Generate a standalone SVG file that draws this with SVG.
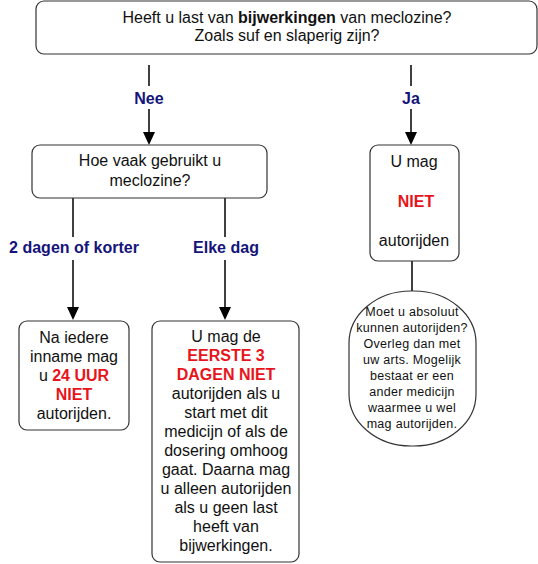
<svg xmlns="http://www.w3.org/2000/svg" width="538" height="564" viewBox="0 0 538 564">
<defs>
<style>
.box{fill:#fff;stroke:#333;stroke-width:1.2}
.t{font-family:"Liberation Sans",Arial,sans-serif;font-size:16px;fill:#111;text-anchor:middle}
.r{fill:#e8141b;font-weight:bold}
.b{font-weight:bold}
.lbl{font-family:"Liberation Sans",Arial,sans-serif;font-size:16px;font-weight:bold;fill:#14147a;text-anchor:middle}
.ln{stroke:#000;stroke-width:1.5;fill:none}
.s{font-size:12.5px;letter-spacing:0.3px}
</style>
</defs>
<g id="connectors">
<line class="ln" x1="149" y1="65" x2="149" y2="86"/>
<line class="ln" x1="149" y1="109" x2="149" y2="133"/>
<path d="M143,132 L155,132 L149,145 Z"/>
<text class="lbl" x="149" y="104">Nee</text>
<line class="ln" x1="411" y1="65" x2="411" y2="86"/>
<line class="ln" x1="411" y1="109" x2="411" y2="133"/>
<path d="M405,132 L417,132 L411,145 Z"/>
<text class="lbl" x="411" y="104">Ja</text>
<line class="ln" x1="73" y1="198" x2="73" y2="237"/>
<line class="ln" x1="73" y1="260" x2="73" y2="308"/>
<path d="M67,307 L79,307 L73,320 Z"/>
<text class="lbl" x="74" y="253">2 dagen of korter</text>
<line class="ln" x1="225" y1="198" x2="225" y2="237"/>
<line class="ln" x1="225" y1="260" x2="225" y2="308"/>
<path d="M219,307 L231,307 L225,320 Z"/>
<text class="lbl" x="226" y="253">Elke dag</text>
<line class="ln" x1="412" y1="261" x2="412" y2="291"/>
</g>
<g id="n1">
<rect class="box" x="36" y="1" width="501" height="53" rx="8"/>
<text class="t" x="287" y="23">Heeft u last van <tspan class="b">bijwerkingen</tspan> van meclozine?</text>
<text class="t" x="287" y="41">Zoals suf en slaperig zijn?</text>
</g>
<g id="n2">
<rect class="box" x="32" y="145" width="235" height="53" rx="8"/>
<text class="t" x="150" y="166">Hoe vaak gebruikt u</text>
<text class="t" x="150" y="186">meclozine?</text>
</g>
<g id="n3">
<rect class="box" x="370" y="145" width="89" height="116" rx="8"/>
<text class="t" x="414" y="167">U mag</text>
<text class="t r" x="416" y="207">NIET</text>
<text class="t" x="414" y="246">autorijden</text>
</g>
<g id="n4">
<rect class="box" x="19" y="321" width="110" height="109" rx="8"/>
<text class="t" x="74" y="343">Na iedere</text>
<text class="t" x="74" y="362">inname mag</text>
<text class="t" x="74" y="381">u <tspan class="r">24 UUR</tspan></text>
<text class="t r" x="74" y="400">NIET</text>
<text class="t" x="74" y="419">autorijden.</text>
</g>
<g id="n5">
<rect class="box" x="152" y="321" width="147" height="241" rx="8"/>
<text class="t" x="226" y="342">U mag de</text>
<text class="t r" x="226" y="361">EERSTE 3</text>
<text class="t r" x="226" y="380">DAGEN NIET</text>
<text class="t" x="226" y="399">autorijden als u</text>
<text class="t" x="226" y="418">start met dit</text>
<text class="t" x="226" y="437">medicijn of als de</text>
<text class="t" x="226" y="456">dosering omhoog</text>
<text class="t" x="226" y="475">gaat. Daarna mag</text>
<text class="t" x="226" y="494">u alleen autorijden</text>
<text class="t" x="226" y="513">als u geen last</text>
<text class="t" x="226" y="532">heeft van</text>
<text class="t" x="226" y="551">bijwerkingen.</text>
</g>
<g id="n6">
<rect class="box" x="349" y="291" width="127" height="155" rx="62" ry="52"/>
<text class="t s" x="412" y="316">Moet u absoluut</text>
<text class="t s" x="412" y="332">kunnen autorijden?</text>
<text class="t s" x="412" y="348">Overleg dan met</text>
<text class="t s" x="412" y="364">uw arts. Mogelijk</text>
<text class="t s" x="412" y="380">bestaat er een</text>
<text class="t s" x="412" y="396">ander medicijn</text>
<text class="t s" x="412" y="412">waarmee u wel</text>
<text class="t s" x="412" y="428">mag autorijden.</text>
</g>
</svg>
